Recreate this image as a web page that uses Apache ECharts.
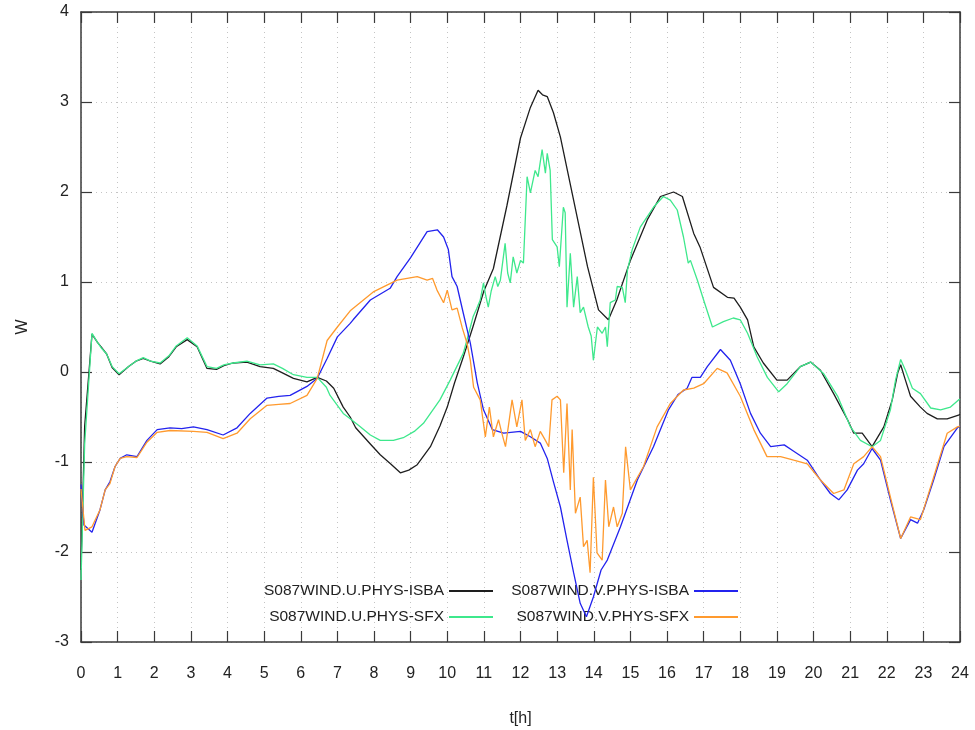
<!DOCTYPE html>
<html>
<head>
<meta charset="utf-8">
<script src="https://cdn.jsdelivr.net/npm/echarts@6/dist/echarts.min.js"></script>
<style>
  html, body { margin: 0; padding: 0; background: #fff; }
  #chart { width: 975px; height: 730px; }
</style>
</head>
<body>
<div id="chart"></div>
<script>
// hours (x) and values (y) for each series
const tUIsba = [0, 0.1, 0.3, 0.45, 0.55, 0.7, 0.85, 1.04, 1.3, 1.5, 1.7, 1.9, 2.16, 2.4, 2.6, 2.9, 3.17, 3.44, 3.7, 3.9, 4.15, 4.53, 4.89, 5.25, 5.5, 5.8, 6.17, 6.45, 6.7, 6.9, 7.16, 7.35, 7.5, 7.9, 8.17, 8.45, 8.72, 8.95, 9.18, 9.54, 9.8, 10.0, 10.2, 10.44, 10.7, 11.0, 11.26, 11.63, 12.0, 12.27, 12.48, 12.6, 12.73, 12.9, 13.09, 13.45, 13.83, 14.13, 14.4, 14.63, 15.0, 15.46, 15.82, 16.18, 16.42, 16.73, 16.9, 17.27, 17.65, 17.83, 18.0, 18.2, 18.37, 18.63, 19.0, 19.28, 19.64, 19.92, 20.19, 20.55, 20.93, 21.1, 21.33, 21.6, 21.92, 22.15, 22.3, 22.38, 22.51, 22.65, 22.92, 23.1, 23.38, 23.65, 23.96, 24];
const uIsba = [-2.2, -0.6, 0.42, 0.33, 0.28, 0.2, 0.05, -0.03, 0.06, 0.12, 0.15, 0.12, 0.09, 0.17, 0.28, 0.36, 0.28, 0.04, 0.03, 0.07, 0.1, 0.11, 0.06, 0.04, -0.01, -0.07, -0.11, -0.06, -0.1, -0.18, -0.39, -0.5, -0.62, -0.8, -0.92, -1.02, -1.12, -1.09, -1.03, -0.83, -0.6, -0.39, -0.12, 0.17, 0.5, 0.9, 1.15, 1.85, 2.6, 2.94, 3.13, 3.08, 3.06, 2.88, 2.61, 1.91, 1.17, 0.69, 0.58, 0.8, 1.24, 1.69, 1.95, 2.0, 1.95, 1.54, 1.39, 0.94, 0.83, 0.82, 0.72, 0.58, 0.28, 0.1, -0.09, -0.09, 0.06, 0.11, 0.02, -0.24, -0.53, -0.68, -0.68, -0.83, -0.61, -0.31, -0.01, 0.08, -0.09, -0.27, -0.39, -0.46, -0.52, -0.52, -0.48, -0.47];

const tUSfx = [0, 0.1, 0.3, 0.45, 0.55, 0.7, 0.85, 1.04, 1.3, 1.5, 1.7, 1.9, 2.16, 2.4, 2.6, 2.9, 3.17, 3.44, 3.7, 3.9, 4.15, 4.53, 4.89, 5.25, 5.5, 5.8, 6.17, 6.45, 6.7, 6.8, 7.16, 7.35, 7.6, 7.9, 8.17, 8.53, 8.8, 9.1, 9.35, 9.8, 10.08, 10.44, 10.6, 10.71, 10.8, 10.9, 10.99, 11.05, 11.12, 11.2, 11.31, 11.38, 11.45, 11.58, 11.65, 11.72, 11.8, 11.9, 12.0, 12.08, 12.18, 12.27, 12.4, 12.48, 12.59, 12.68, 12.73, 12.81, 12.87, 13.0, 13.06, 13.17, 13.22, 13.27, 13.36, 13.45, 13.55, 13.63, 13.72, 13.85, 13.93, 13.99, 14.1, 14.23, 14.32, 14.37, 14.45, 14.59, 14.64, 14.78, 14.86, 14.92, 15.05, 15.27, 15.63, 15.9, 16.09, 16.28, 16.45, 16.58, 16.64, 16.83, 17.0, 17.24, 17.54, 17.81, 18.0, 18.2, 18.46, 18.74, 19.05, 19.28, 19.64, 19.92, 20.28, 20.66, 21.01, 21.28, 21.6, 21.83, 22.1, 22.24, 22.38, 22.51, 22.7, 22.92, 23.2, 23.47, 23.74, 23.96, 24];
const uSfx = [-2.31, -0.8, 0.43, 0.33, 0.27, 0.2, 0.06, -0.02, 0.06, 0.12, 0.16, 0.12, 0.1, 0.18, 0.29, 0.38, 0.29, 0.06, 0.04, 0.08, 0.1, 0.12, 0.08, 0.09, 0.04, -0.03, -0.06, -0.06, -0.17, -0.26, -0.46, -0.52, -0.6, -0.7, -0.76, -0.76, -0.73, -0.66, -0.57, -0.31, -0.09, 0.21, 0.45, 0.62, 0.7, 0.8, 0.99, 0.85, 0.72, 0.9, 1.06, 0.95, 1.02, 1.43, 1.1, 0.99, 1.28, 1.1, 1.24, 1.21, 2.17, 1.99, 2.24, 2.17, 2.47, 2.21, 2.43, 2.24, 1.47, 1.39, 1.17, 1.83, 1.77, 0.72, 1.32, 0.72, 1.06, 0.66, 0.72, 0.5, 0.4, 0.13, 0.5, 0.43, 0.5, 0.28, 0.77, 0.8, 0.95, 0.94, 0.77, 1.13, 1.36, 1.61, 1.83, 1.95, 1.91, 1.8, 1.5, 1.21, 1.24, 1.02, 0.8, 0.5, 0.56, 0.6, 0.58, 0.43, 0.17, -0.06, -0.22, -0.13, 0.06, 0.11, -0.02, -0.27, -0.61, -0.76, -0.83, -0.76, -0.42, -0.09, 0.14, 0.02, -0.18, -0.24, -0.4, -0.42, -0.39, -0.31, -0.3];

const tVIsba = [0, 0.08, 0.3, 0.52, 0.66, 0.79, 0.93, 1.07, 1.25, 1.53, 1.8, 2.08, 2.43, 2.75, 3.07, 3.44, 3.88, 4.26, 4.62, 5.08, 5.4, 5.71, 6.17, 6.45, 6.72, 7.0, 7.35, 7.43, 7.9, 8.44, 8.63, 9.0, 9.45, 9.73, 9.9, 10.03, 10.13, 10.27, 10.44, 10.63, 10.82, 10.99, 11.23, 11.54, 12.0, 12.27, 12.54, 12.73, 12.9, 13.09, 13.27, 13.45, 13.63, 13.8, 13.99, 14.2, 14.37, 14.73, 15.19, 15.63, 16.04, 16.3, 16.55, 16.68, 16.91, 17.1, 17.46, 17.73, 18.0, 18.28, 18.55, 18.83, 19.2, 19.46, 19.83, 20.19, 20.46, 20.69, 20.92, 21.2, 21.37, 21.6, 21.83, 22.1, 22.38, 22.65, 22.84, 23.01, 23.28, 23.56, 23.93, 24];
const vIsba = [-1.25, -1.7, -1.78, -1.53, -1.31, -1.22, -1.05, -0.96, -0.92, -0.94, -0.76, -0.64, -0.62, -0.63, -0.61, -0.64, -0.7, -0.62, -0.46, -0.29, -0.27, -0.26, -0.16, -0.07, 0.15, 0.39, 0.54, 0.58, 0.8, 0.93, 1.06, 1.27, 1.56, 1.58, 1.5, 1.36, 1.06, 0.95, 0.65, 0.32, -0.12, -0.42, -0.64, -0.68, -0.66, -0.72, -0.79, -0.96, -1.22, -1.5, -1.87, -2.23, -2.57, -2.72, -2.5, -2.2, -2.09, -1.72, -1.2, -0.83, -0.42, -0.25, -0.18, -0.06, -0.06, 0.06, 0.25, 0.13, -0.13, -0.46, -0.68, -0.83, -0.81, -0.88, -0.98, -1.2, -1.35, -1.42, -1.31, -1.09, -1.02, -0.85, -0.98, -1.42, -1.85, -1.64, -1.68, -1.53, -1.2, -0.83, -0.62, -0.6];

const tVSfx = [0, 0.11, 0.3, 0.52, 0.66, 0.79, 0.93, 1.07, 1.25, 1.53, 1.8, 2.08, 2.43, 3.07, 3.44, 3.88, 4.26, 4.62, 5.08, 5.4, 5.71, 6.17, 6.45, 6.72, 7.0, 7.35, 7.98, 8.63, 9.18, 9.45, 9.6, 9.72, 9.9, 10.0, 10.13, 10.27, 10.41, 10.54, 10.63, 10.72, 10.9, 11.04, 11.15, 11.26, 11.4, 11.49, 11.59, 11.77, 11.9, 12.04, 12.13, 12.27, 12.4, 12.54, 12.68, 12.77, 12.86, 13.0, 13.09, 13.18, 13.27, 13.36, 13.41, 13.5, 13.63, 13.72, 13.82, 13.9, 13.99, 14.09, 14.23, 14.32, 14.41, 14.54, 14.64, 14.78, 14.87, 15.0, 15.36, 15.73, 16.09, 16.45, 16.73, 17.0, 17.37, 17.64, 18.0, 18.37, 18.73, 19.1, 19.46, 19.83, 20.19, 20.55, 20.83, 21.1, 21.37, 21.6, 21.83, 22.1, 22.38, 22.65, 22.92, 23.28, 23.65, 23.93, 24];
const vSfx = [-1.3, -1.76, -1.72, -1.53, -1.31, -1.24, -1.05, -0.96, -0.94, -0.95, -0.78, -0.67, -0.65, -0.66, -0.67, -0.74, -0.68, -0.52, -0.37, -0.36, -0.35, -0.26, -0.07, 0.35, 0.5, 0.68, 0.89, 1.02, 1.06, 1.02, 1.04, 0.91, 0.77, 0.91, 0.69, 0.71, 0.49, 0.32, 0.13, -0.17, -0.31, -0.72, -0.39, -0.72, -0.53, -0.68, -0.83, -0.31, -0.61, -0.31, -0.76, -0.64, -0.83, -0.66, -0.76, -0.83, -0.31, -0.27, -0.31, -1.12, -0.35, -1.31, -0.64, -1.57, -1.39, -1.94, -1.87, -2.23, -1.17, -2.01, -2.09, -1.2, -1.72, -1.5, -1.72, -1.57, -0.83, -1.31, -1.05, -0.61, -0.35, -0.2, -0.18, -0.13, 0.04, -0.01, -0.27, -0.64, -0.94, -0.94, -0.98, -1.02, -1.2, -1.35, -1.31, -1.02, -0.94, -0.83, -0.94, -1.39, -1.85, -1.61, -1.64, -1.17, -0.68, -0.61, -0.6];

const names = ['S087WIND.U.PHYS-ISBA', 'S087WIND.U.PHYS-SFX', 'S087WIND.V.PHYS-ISBA', 'S087WIND.V.PHYS-SFX'];
const colors = ['#1e1e1e', '#3ee88c', '#2323ee', '#ff9a2e'];

function zip (ts, vs) {
  return ts.map((t, i) => [t, vs[i]]);
}

const font = 'Liberation Sans';
const axisCol = '#3a3a3a';

const chart = echarts.init(document.getElementById('chart'));

// gnuplot style key: text on the left, line sample on the right
const legendPos = [
  { right: 482, top: 583 },
  { right: 482, top: 609 },
  { right: 237, top: 583 },
  { right: 237, top: 609 }
];

const mirrorAxis = {
  type: 'value',
  axisLine: { show: true, onZero: false, lineStyle: { color: axisCol, width: 1.5 } },
  axisTick: { show: true, inside: true, length: 11, lineStyle: { color: axisCol, width: 1.2 } },
  axisLabel: { show: false },
  splitLine: { show: false }
};

chart.setOption({
  animation: false,
  backgroundColor: '#fff',
  textStyle: { fontFamily: font },
  legend: names.map((n, i) => ({
    data: [n],
    right: legendPos[i].right,
    top: legendPos[i].top,
    align: 'right',
    padding: 0,
    icon: 'rect',
    itemWidth: 44,
    itemHeight: 2,
    textStyle: { fontFamily: font, fontSize: 15.5, color: '#222' }
  })),
  grid: { left: 81, right: 15, top: 12, bottom: 88, containLabel: false, outerBoundsMode: 'none' },
  xAxis: [{
    type: 'value',
    min: 0,
    max: 24,
    interval: 1,
    name: 't[h]',
    nameLocation: 'middle',
    nameGap: 69,
    nameTextStyle: { fontFamily: font, fontSize: 16, color: '#222' },
    axisLine: { onZero: false, lineStyle: { color: axisCol, width: 1.5 } },
    axisTick: { inside: true, length: 11, lineStyle: { color: axisCol, width: 1.2 } },
    axisLabel: { margin: 24, fontFamily: font, fontSize: 16, color: '#222' },
    splitLine: { show: true, lineStyle: { color: '#c4c4c4', width: 1, type: [1, 4] } }
  }, Object.assign({ position: 'top', min: 0, max: 24, interval: 1 }, mirrorAxis)],
  yAxis: [{
    type: 'value',
    min: -3,
    max: 4,
    interval: 1,
    name: 'W',
    nameLocation: 'middle',
    nameRotate: 90,
    nameGap: 50,
    nameTextStyle: { fontFamily: font, fontSize: 16, color: '#222' },
    axisLine: { show: true, onZero: false, lineStyle: { color: axisCol, width: 1.5 } },
    axisTick: { show: true, inside: true, length: 11, lineStyle: { color: axisCol, width: 1.2 } },
    axisLabel: { margin: 12, fontFamily: font, fontSize: 16, color: '#222' },
    splitLine: { show: true, lineStyle: { color: '#c4c4c4', width: 1, type: [1, 4] } }
  }, Object.assign({ position: 'right', min: -3, max: 4, interval: 1 }, mirrorAxis)],
  series: [
    { name: names[0], data: zip(tUIsba, uIsba) },
    { name: names[1], data: zip(tUSfx, uSfx) },
    { name: names[2], data: zip(tVIsba, vIsba) },
    { name: names[3], data: zip(tVSfx, vSfx) }
  ].map((s, i) => Object.assign(s, {
    type: 'line',
    symbol: 'none',
    showSymbol: false,
    color: colors[i],
    lineStyle: { color: colors[i], width: 1.3 },
    z: 2 + i
  }))
});
</script>
</body>
</html>
